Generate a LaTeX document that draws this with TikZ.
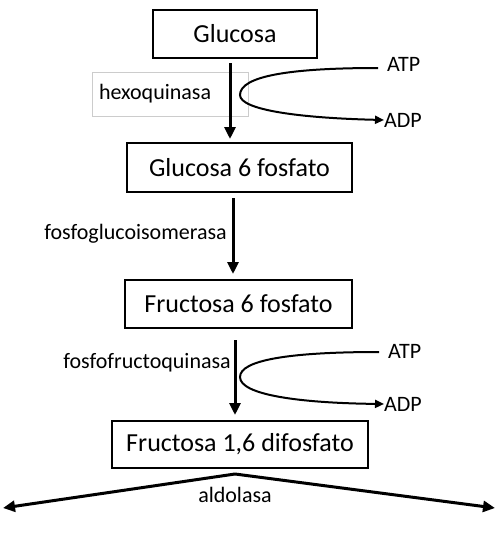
\documentclass[tikz,border=0pt]{standalone}
\usepackage{fontspec}
\setmainfont{Carlito}
\usetikzlibrary{arrows.meta}
\begin{document}
\begin{tikzpicture}[x=1pt,y=-1pt,
  box/.style={draw, line width=1.3pt, inner sep=0pt, font=\fontsize{26}{30}\selectfont},
  lbl/.style={inner sep=0pt, font=\fontsize{22}{26}\selectfont},
  enzbox/.style={draw=black!20, line width=0.8pt, inner sep=0pt, font=\fontsize{22}{26}\selectfont},
  main/.style={line width=3pt, -{Triangle[length=12pt,width=11pt]}},
  sidearr/.style={line width=2pt, -{Triangle[length=9pt,width=8pt]}}]
\useasboundingbox (0,0) rectangle (495,547);
% boxes
\node[box, minimum width=164pt, minimum height=48pt] (glc) at (235,34) {Glucosa};
\node[box, minimum width=225pt, minimum height=49pt] (g6p) at (239.5,167.5) {Glucosa 6 fosfato};
\node[box, minimum width=227pt, minimum height=48pt] (f6p) at (238.5,304) {Fructosa 6 fosfato};
\node[box, minimum width=256pt, minimum height=47pt] (f16) at (240,444.5) {Fructosa 1,6 difosfato};
% enzyme labels
\node[enzbox, minimum width=156pt, minimum height=44pt, text width=142pt, align=left] (hex) at (170,94) {hexoquinasa};
\node[lbl, anchor=east] (pgi) at (227,234) {fosfoglucoisomerasa};
\node[lbl, anchor=east] (pfk) at (231,363) {fosfofructoquinasa};
\node[lbl] (ald) at (235,495) {aldolasa};
% ATP / ADP
\node[lbl, anchor=west] (atp1) at (387,64) {ATP};
\node[lbl, anchor=west] (adp1) at (384,120) {ADP};
\node[lbl, anchor=west] (atp2) at (388,351) {ATP};
\node[lbl, anchor=west] (adp2) at (384,404) {ADP};
% coordinates
\coordinate (a1s) at (230,63);
\coordinate (a1e) at (230,139);
\coordinate (a2s) at (233,198);
\coordinate (a2e) at (233,274);
\coordinate (a3s) at (235,340);
\coordinate (a3e) at (235,415);
\coordinate (split) at (235,474);
\coordinate (leftend) at (3,508);
\coordinate (rightend) at (495,508);
% main arrows
\draw[main] (a1s) -- (a1e);
\draw[main] (a2s) -- (a2e);
\draw[main] (a3s) -- (a3e);
\draw[main] (split) -- (leftend);
\draw[main] (split) -- (rightend);
% ATP -> ADP curves
\draw[sidearr] (atp1.west) ++(-9,4) .. controls (290,68) and (240,76) .. (240,95)
   .. controls (240,110) and (300,118) .. (adp1.west);
\draw[sidearr] (atp2.west) ++(-9,1) .. controls (290,352) and (240,360) .. (240,377)
   .. controls (240,395) and (300,403) .. (adp2.west);
\end{tikzpicture}
\end{document}
